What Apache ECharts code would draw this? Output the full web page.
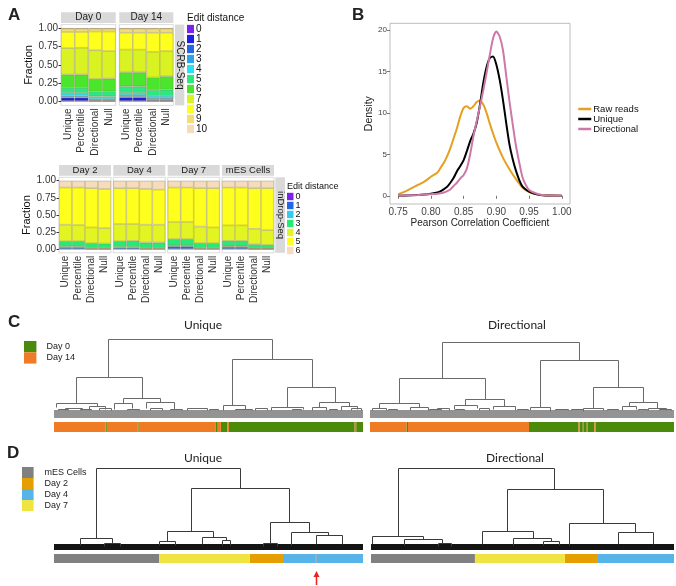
<!DOCTYPE html>
<html>
<head>
<meta charset="utf-8">
<title>UMI deduplication</title>
<script src="https://cdn.jsdelivr.net/npm/echarts@6/dist/echarts.min.js"></script>
<style>
  html, body { margin: 0; padding: 0; background: #fff; }
  #chart { width: 676px; height: 586px; }
</style>
</head>
<body>
<div id="chart"></div>
<script>
// ---- panel A: fraction of reads per edit distance (rows = Unique, Percentile, Directional, Null)
const methods = ['Unique', 'Percentile', 'Directional', 'Null']
const fracTicks = [0, 0.25, 0.5, 0.75, 1]
const scrbLevels = ['0', '1', '2', '3', '4', '5', '6', '7', '8', '9', '10']
const indropLevels = ['0', '1', '2', '3', '4', '5', '6']
const scrbColors = ['#7b22ee', '#1c20e6', '#2366e6', '#2ba2ee', '#2be0f2', '#2ce882', '#4ae62c', '#d8f222', '#ffff1e', '#f7dc74', '#f6dcbc']
const indropColors = ['#7b22ee', '#2266e8', '#33ccee', '#2ae878', '#e2f422', '#ffff1e', '#f6dcbc']

const scrbDay0 = [
  [0.01, 0.045, 0.01, 0.02, 0.035, 0.07, 0.18, 0.36, 0.22, 0.045, 0.005],
  [0.01, 0.045, 0.01, 0.02, 0.035, 0.07, 0.18, 0.365, 0.215, 0.045, 0.005],
  [0.005, 0.013, 0.008, 0.01, 0.036, 0.068, 0.17, 0.39, 0.255, 0.04, 0.005],
  [0.005, 0.013, 0.008, 0.01, 0.036, 0.07, 0.173, 0.375, 0.265, 0.04, 0.005]
]
const scrbDay14 = [
  [0.01, 0.05, 0.01, 0.02, 0.03, 0.09, 0.19, 0.31, 0.23, 0.055, 0.005],
  [0.01, 0.05, 0.01, 0.02, 0.03, 0.09, 0.19, 0.31, 0.23, 0.055, 0.005],
  [0.005, 0.015, 0.01, 0.02, 0.03, 0.08, 0.17, 0.35, 0.26, 0.055, 0.005],
  [0.005, 0.015, 0.01, 0.02, 0.03, 0.085, 0.18, 0.345, 0.25, 0.055, 0.005]
]
const indropDay2 = [
  [0.005, 0.025, 0.01, 0.08, 0.24, 0.54, 0.10],
  [0.005, 0.025, 0.01, 0.08, 0.235, 0.545, 0.10],
  [0.002, 0.008, 0.01, 0.07, 0.23, 0.57, 0.11],
  [0.002, 0.008, 0.01, 0.065, 0.225, 0.57, 0.12]
]
const indropDay4 = [
  [0.005, 0.02, 0.01, 0.085, 0.25, 0.52, 0.11],
  [0.005, 0.02, 0.01, 0.09, 0.245, 0.52, 0.11],
  [0.002, 0.008, 0.01, 0.08, 0.26, 0.52, 0.12],
  [0.002, 0.008, 0.01, 0.08, 0.26, 0.51, 0.13]
]
const indropDay7 = [
  [0.005, 0.04, 0.015, 0.09, 0.25, 0.50, 0.10],
  [0.005, 0.04, 0.015, 0.09, 0.25, 0.50, 0.10],
  [0.002, 0.01, 0.01, 0.07, 0.24, 0.56, 0.108],
  [0.002, 0.01, 0.01, 0.068, 0.23, 0.57, 0.11]
]
const indropMES = [
  [0.005, 0.03, 0.01, 0.08, 0.225, 0.55, 0.10],
  [0.005, 0.03, 0.01, 0.08, 0.225, 0.55, 0.10],
  [0.002, 0.006, 0.01, 0.055, 0.227, 0.59, 0.11],
  [0.002, 0.006, 0.01, 0.047, 0.215, 0.61, 0.11]
]

// ---- panel B: density of pearson correlation
const pearsonTicks = [0.75, 0.8, 0.85, 0.9, 0.95, 1.0]
const densityTicks = [0, 5, 10, 15, 20]
const rawReads = [[0.75, 0.2], [0.76, 0.5], [0.77, 0.9], [0.78, 1.3], [0.79, 1.7], [0.80, 2.3], [0.81, 2.8], [0.815, 3.4], [0.82, 4.0], [0.825, 4.8], [0.83, 5.8], [0.835, 7.0], [0.84, 8.2], [0.845, 9.6], [0.85, 10.6], [0.855, 10.8], [0.86, 10.5], [0.865, 10.8], [0.87, 11.3], [0.875, 11.5], [0.88, 11.0], [0.885, 10.0], [0.89, 8.7], [0.895, 7.5], [0.90, 6.4], [0.91, 4.6], [0.92, 3.2], [0.93, 2.0], [0.94, 1.0], [0.95, 0.45], [0.96, 0.2], [0.97, 0.08], [0.98, 0.03], [1.0, 0.0]]
const uniqueDensity = [[0.75, 0], [0.77, 0.05], [0.79, 0.15], [0.80, 0.25], [0.81, 0.4], [0.815, 0.55], [0.82, 0.8], [0.825, 1.1], [0.83, 1.6], [0.835, 2.2], [0.84, 3.0], [0.845, 3.6], [0.85, 4.3], [0.855, 5.4], [0.86, 6.6], [0.865, 7.5], [0.87, 8.8], [0.875, 11.0], [0.88, 13.6], [0.885, 15.5], [0.89, 16.6], [0.895, 16.8], [0.90, 15.8], [0.905, 14.0], [0.91, 11.6], [0.915, 8.8], [0.92, 6.2], [0.925, 4.4], [0.93, 3.0], [0.935, 1.9], [0.94, 1.1], [0.945, 0.75], [0.95, 0.5], [0.96, 0.2], [0.97, 0.05], [1.0, 0]]
const directionalDensity = [[0.75, 0], [0.78, 0.1], [0.80, 0.2], [0.81, 0.25], [0.82, 0.4], [0.825, 0.55], [0.83, 0.8], [0.835, 1.2], [0.84, 1.6], [0.845, 2.1], [0.85, 2.5], [0.855, 3.3], [0.86, 5.0], [0.865, 7.2], [0.87, 9.0], [0.875, 10.8], [0.88, 12.7], [0.885, 14.8], [0.89, 17.0], [0.895, 19.0], [0.90, 19.8], [0.905, 19.2], [0.91, 17.6], [0.915, 14.5], [0.92, 11.4], [0.925, 8.6], [0.93, 6.0], [0.935, 4.0], [0.94, 2.2], [0.945, 1.3], [0.95, 0.7], [0.96, 0.3], [0.97, 0.1], [0.98, 0.03], [1.0, 0]]

// ---- panels C, D: dendrogram merges [leftX%, rightX%, height, leftChildHeight, rightChildHeight]
const cUniqueTree = [
  [17.5, 70.6, 79, 41, 59], [7.1, 28.5, 41, 15, 20], [22.3, 34.3, 20, 15, 16],
  [57.6, 83.5, 59, 13, 31], [75.4, 90.9, 31, 11, 16], [85.8, 95.5, 16, 11, 12],
  [0.6, 13.9, 15, 11, 12], [54.7, 61.8, 13, 8, 9], [70.2, 80.6, 11, 8, 9],
  [19.4, 25.2, 15, 9, 10], [29.8, 38.8, 16, 10, 9], [11.3, 16.5, 12, 8, 9],
  [83.6, 88.0, 11, 8, 8], [92.8, 98.2, 12, 8, 9], [3.5, 9.0, 10, 8, 8], [43.0, 49.5, 10, 8, 8],
  [23.5, 27.5, 9, 8, 8], [31.0, 35.0, 10, 8, 8], [58.5, 64.0, 9, 8, 8], [65.0, 69.0, 10, 8, 8],
  [77.0, 80.0, 9, 8, 8], [89.0, 91.5, 9, 8, 8], [96.0, 99.5, 10, 8, 8], [1.2, 4.5, 9, 8, 8],
  [8.5, 12.0, 9, 8, 8], [14.5, 18.5, 10, 8, 8], [37.5, 41.5, 9, 8, 8], [50.0, 53.0, 9, 8, 8]
]
const cDirectionalTree = [
  [23.7, 68.8, 76, 40, 58], [9.5, 37.8, 40, 15, 19], [31.3, 44.1, 19, 13, 12],
  [55.9, 81.6, 58, 11, 31], [73.4, 89.8, 31, 10, 16], [85.2, 94.4, 16, 12, 10],
  [3.0, 16.0, 15, 10, 11], [27.5, 35.1, 13, 9, 10], [40.5, 47.7, 12, 9, 8],
  [52.5, 59.3, 11, 8, 7], [70.0, 76.8, 10, 7, 8], [82.9, 87.5, 12, 8, 9],
  [91.4, 97.4, 10, 8, 8], [0.6, 5.4, 10, 8, 8], [13.0, 19.0, 11, 8, 8], [22.0, 26.0, 10, 8, 8],
  [6.0, 9.0, 9, 8, 8], [19.5, 23.5, 9, 8, 8], [28.0, 31.0, 9, 8, 8], [36.0, 39.0, 10, 8, 8],
  [48.5, 52.0, 9, 8, 8], [61.0, 65.0, 9, 8, 8], [66.0, 70.0, 9, 8, 8], [78.0, 81.5, 9, 8, 8],
  [88.0, 91.0, 9, 8, 8], [95.0, 99.0, 9, 8, 8]
]
const dUniqueTree = [
  [13.6, 60.2, 82, 12, 62], [8.4, 18.8, 12, 5, 7], [16.2, 21.4, 7, 4, 4],
  [44.2, 76.1, 62, 19, 28], [36.6, 51.5, 19, 9, 13], [47.9, 55.7, 13, 6, 10],
  [54.4, 57.0, 10, 5, 5], [69.9, 82.5, 28, 7, 18], [76.7, 88.7, 18, 5, 15],
  [84.8, 93.2, 15, 6, 6], [34.0, 39.2, 9, 5, 5], [67.5, 72.3, 7, 4, 4]
]
const dDirectionalTree = [
  [8.9, 60.4, 82, 14, 61], [0.3, 17.2, 14, 6, 11], [10.9, 23.4, 11, 5, 7],
  [22.1, 26.4, 7, 4, 4], [44.9, 76.6, 61, 19, 27], [36.6, 53.5, 19, 6, 12],
  [46.9, 59.4, 12, 5, 9], [56.8, 62.0, 9, 5, 5], [65.3, 87.1, 27, 5, 18],
  [81.5, 93.1, 18, 6, 6]
]
// dense leaves at the bottom of each tree [fromX%, toX%, lowH, highH]
const cLeaves = [[0, 100, 0, 8]]
const dLeaves = [[0, 100, 0, 6]]

// sample colour bars under the trees [fromX%, toX%, group]
const cGroups = ['Day 0', 'Day 14']
const cGroupColors = ['#4b8b0b', '#ef7b24']
const cUniqueSamples = [
  [0, 16.7, 'Day 14'], [16.7, 17.1, 'Day 0'], [17.1, 27.0, 'Day 14'], [27.0, 27.4, 'Day 0'],
  [27.4, 52.4, 'Day 14'], [52.4, 53.0, 'Day 0'], [53.0, 54.0, 'Day 14'], [54.0, 56.1, 'Day 0'],
  [56.1, 56.6, 'Day 14'], [56.6, 97.3, 'Day 0'], [97.3, 97.8, 'Day 14'], [97.8, 100, 'Day 0']
]
const cDirectionalSamples = [
  [0, 12.0, 'Day 14'], [12.0, 12.5, 'Day 0'], [12.5, 52.3, 'Day 14'], [52.3, 68.6, 'Day 0'],
  [68.6, 69.0, 'Day 14'], [69.0, 70.0, 'Day 0'], [70.0, 70.4, 'Day 14'], [70.4, 71.3, 'Day 0'],
  [71.3, 71.7, 'Day 14'], [71.7, 73.8, 'Day 0'], [73.8, 74.3, 'Day 14'], [74.3, 100, 'Day 0']
]
const dGroups = ['mES Cells', 'Day 2', 'Day 4', 'Day 7']
const dGroupColors = ['#808080', '#e69f00', '#56b4e9', '#f0e442']
const dUniqueSamples = [
  [0, 34.0, 'mES Cells'], [34.0, 63.4, 'Day 7'], [63.4, 74.1, 'Day 2'],
  [74.1, 84.6, 'Day 4'], [84.6, 85.0, 'mES Cells'], [85.0, 100, 'Day 4']
]
const dDirectionalSamples = [
  [0, 34.3, 'mES Cells'], [34.3, 64.0, 'Day 7'], [64.0, 74.9, 'Day 2'], [74.9, 100, 'Day 4']
]
// the outlier marked with a red arrow [x%, tipH, tailH]
const arrowMark = [[84.8, -21, -35]]

const chart = echarts.init(document.getElementById('chart'))

const facets = [
  { data: scrbDay0, levels: scrbLevels, colors: scrbColors, key: 's', grid: { left: 61, top: 24.6, width: 54.7, height: 80.8 } },
  { data: scrbDay14, levels: scrbLevels, colors: scrbColors, key: 's', grid: { left: 119.3, top: 24.6, width: 54, height: 80.8 } },
  { data: indropDay2, levels: indropLevels, colors: indropColors, key: 'i', grid: { left: 59, top: 177.3, width: 52, height: 75.5 } },
  { data: indropDay4, levels: indropLevels, colors: indropColors, key: 'i', grid: { left: 113.3, top: 177.3, width: 52, height: 75.5 } },
  { data: indropDay7, levels: indropLevels, colors: indropColors, key: 'i', grid: { left: 167.7, top: 177.3, width: 52, height: 75.5 } },
  { data: indropMES, levels: indropLevels, colors: indropColors, key: 'i', grid: { left: 222, top: 177.3, width: 52, height: 75.5 } }
]

// strip backgrounds [x, y, w, h, text, fontSize, vertical]
const strips = [
  [61, 12.3, 54.7, 10.6, 'Day 0', 10, false],
  [119.3, 12.3, 54, 10.6, 'Day 14', 10, false],
  [175, 24.6, 9.3, 80.8, 'SCRB-Seq', 10, true],
  [59, 165, 52, 10.7, 'Day 2', 9.5, false],
  [113.3, 165, 52, 10.7, 'Day 4', 9.5, false],
  [167.7, 165, 52, 10.7, 'Day 7', 9.5, false],
  [222, 165, 52, 10.7, 'mES Cells', 9.5, false],
  [275.3, 177.3, 9.7, 75.5, 'inDrop-Seq', 9.5, true]
]

const grids = []
const xAxes = []
const yAxes = []
const series = []

facets.forEach((f, gi) => {
  const first = gi === 0 || gi === 2
  grids.push(Object.assign({ show: true, borderColor: '#d2d2d2', borderWidth: 0.8, backgroundColor: '#fff' }, f.grid))
  xAxes.push({
    type: 'category', gridIndex: gi, data: methods,
    axisLine: { show: false },
    axisTick: { alignWithLabel: true, length: 2.5, lineStyle: { color: '#333' } },
    axisLabel: { rotate: 90, interval: 0, fontSize: 10, color: '#333', margin: 3 }
  })
  yAxes.push({
    type: 'value', gridIndex: gi, min: -0.05, max: 1.05,
    splitLine: { show: false }, axisLine: { show: false },
    axisTick: { show: first, length: 2.5, customValues: fracTicks, lineStyle: { color: '#333' } },
    axisLabel: { show: first, customValues: fracTicks, formatter: v => v.toFixed(2), fontSize: 10, color: '#333', margin: 3 },
    name: first ? 'Fraction' : '', nameLocation: 'middle', nameGap: 20,
    nameTextStyle: { fontSize: 11, color: '#111' }
  })
  f.levels.forEach((lv, li) => {
    series.push({
      type: 'bar', name: f.key + lv, xAxisIndex: gi, yAxisIndex: gi, stack: 'st' + gi,
      barCategoryGap: '0%',
      data: f.data.map(row => row[li]),
      itemStyle: { color: f.colors[li], borderColor: 'rgba(130,120,60,0.55)', borderWidth: 0.6 }
    })
  })
})

// panel B grid (index 6)
grids.push({ left: 390, top: 23.3, width: 180, height: 180.7, show: true, borderColor: '#bdbdbd', borderWidth: 1 })
xAxes.push({
  type: 'value', gridIndex: 6, min: 0.7375, max: 1.0125,
  splitLine: { show: false }, axisLine: { show: false },
  axisTick: { customValues: pearsonTicks, length: 3, lineStyle: { color: '#777' } },
  axisLabel: { customValues: pearsonTicks, formatter: v => v.toFixed(2), fontSize: 10, color: '#444', margin: 3 },
  name: 'Pearson Correlation Coefficient', nameLocation: 'middle', nameGap: 12,
  nameTextStyle: { fontSize: 10, color: '#222' }
})
yAxes.push({
  type: 'value', gridIndex: 6, min: -0.99, max: 20.79,
  splitLine: { show: false }, axisLine: { show: false },
  axisTick: { customValues: densityTicks, length: 3, lineStyle: { color: '#777' } },
  axisLabel: { customValues: densityTicks, fontSize: 8, color: '#444', margin: 3 },
  name: 'Density', nameLocation: 'middle', nameGap: 13,
  nameTextStyle: { fontSize: 10.5, color: '#222' }
})
const densityLines = [
  ['Raw reads', rawReads, '#e5a020'],
  ['Unique', uniqueDensity, '#000000'],
  ['Directional', directionalDensity, '#cc79a7']
]
densityLines.forEach(d => {
  series.push({
    type: 'line', name: d[0], xAxisIndex: 6, yAxisIndex: 6, data: d[1],
    showSymbol: false, symbol: 'none', smooth: 0.25,
    lineStyle: { width: 2, color: d[2] }, itemStyle: { color: d[2] }
  })
})

// dendrogram grids (7..10)
const treePanels = [
  { grid: { left: 54, top: 330, width: 309, height: 102 }, yMin: -14, yMax: 88, tree: cUniqueTree, leaves: cLeaves, samples: cUniqueSamples, groups: cGroups, colors: cGroupColors, line: '#6a6a6a', leafColor: '#939393', bar: [-4, -14] },
  { grid: { left: 370, top: 330, width: 304, height: 102 }, yMin: -14, yMax: 88, tree: cDirectionalTree, leaves: cLeaves, samples: cDirectionalSamples, groups: cGroups, colors: cGroupColors, line: '#6a6a6a', leafColor: '#939393', bar: [-4, -14] },
  { grid: { left: 54, top: 460, width: 309, height: 103 }, yMin: -13, yMax: 90, tree: dUniqueTree, leaves: dLeaves, samples: dUniqueSamples, groups: dGroups, colors: dGroupColors, line: '#3a3a3a', leafColor: '#141414', bar: [-4, -13] },
  { grid: { left: 371, top: 460, width: 303, height: 103 }, yMin: -13, yMax: 90, tree: dDirectionalTree, leaves: dLeaves, samples: dDirectionalSamples, groups: dGroups, colors: dGroupColors, line: '#3a3a3a', leafColor: '#141414', bar: [-4, -13] }
]

function snap(p) {
  return [Math.round(p[0]) + 0.5, Math.round(p[1]) + 0.5]
}

treePanels.forEach((t, k) => {
  const gi = 7 + k
  grids.push(t.grid)
  xAxes.push({ type: 'value', gridIndex: gi, min: 0, max: 100, show: false })
  yAxes.push({ type: 'value', gridIndex: gi, min: t.yMin, max: t.yMax, show: false })
  series.push({
    type: 'custom', name: 'leaves' + k, xAxisIndex: gi, yAxisIndex: gi, data: t.leaves,
    itemStyle: { color: t.leafColor },
    renderItem: (params, api) => {
      const a = api.coord([api.value(0), api.value(3)])
      const b = api.coord([api.value(1), api.value(2)])
      return { type: 'rect', shape: { x: a[0], y: a[1], width: b[0] - a[0], height: b[1] - a[1] }, style: { fill: api.visual('color') } }
    }
  })
  series.push({
    type: 'custom', name: 'tree' + k, xAxisIndex: gi, yAxisIndex: gi, data: t.tree,
    itemStyle: { color: t.line },
    renderItem: (params, api) => {
      const x1 = api.value(0), x2 = api.value(1), h = api.value(2)
      const pts = [[x1, api.value(3)], [x1, h], [x2, h], [x2, api.value(4)]].map(v => snap(api.coord(v)))
      return { type: 'polyline', shape: { points: pts }, style: { stroke: api.visual('color'), fill: 'none', lineWidth: 1 } }
    }
  })
  t.groups.forEach((g, j) => {
    series.push({
      type: 'custom', name: g, xAxisIndex: gi, yAxisIndex: gi,
      data: t.samples.filter(s => s[2] === g).map(s => [s[0], s[1]]),
      itemStyle: { color: t.colors[j] },
      renderItem: (params, api) => {
        const a = api.coord([api.value(0), t.bar[0]])
        const b = api.coord([api.value(1), t.bar[1]])
        return { type: 'rect', shape: { x: a[0], y: a[1], width: Math.max(b[0] - a[0], 1), height: b[1] - a[1] }, style: { fill: api.visual('color') } }
      }
    })
  })
})

series.push({
  type: 'custom', name: 'arrow', xAxisIndex: 9, yAxisIndex: 9, data: arrowMark,
  renderItem: (params, api) => {
    const tip = api.coord([api.value(0), api.value(1)])
    const tail = api.coord([api.value(0), api.value(2)])
    const x = Math.round(tip[0]) + 0.5
    return {
      type: 'group', children: [
        { type: 'line', shape: { x1: x, y1: tip[1] + 5, x2: x, y2: tail[1] }, style: { stroke: '#e8231f', lineWidth: 1.5 } },
        { type: 'polygon', shape: { points: [[x, tip[1]], [x - 3, tip[1] + 6], [x + 3, tip[1] + 6]] }, style: { fill: '#e8231f' } }
      ]
    }
  }
})

const panelLabel = (text, left, top) => ({ text: text, left: left, top: top, textStyle: { fontSize: 17, fontWeight: 'bold', color: '#222' } })
const treeTitle = (text, left, top) => ({ text: text, left: left, top: top, textAlign: 'center', textStyle: { fontFamily: 'Lato', fontSize: 12, fontWeight: 'normal', color: '#222' } })

const option = {
  animation: false,
  backgroundColor: '#fff',
  textStyle: { fontFamily: 'Liberation Sans, Arial, sans-serif' },
  title: [
    panelLabel('A', 3, 2),
    panelLabel('B', 347, 2),
    panelLabel('C', 3, 309),
    panelLabel('D', 2, 440),
    { text: 'Edit distance', left: 187, top: 13, padding: 0, textStyle: { fontSize: 10, fontWeight: 'normal', color: '#111' } },
    { text: 'Edit distance', left: 287, top: 182, padding: 0, textStyle: { fontSize: 9, fontWeight: 'normal', color: '#111' } },
    treeTitle('Unique', 198, 314),
    treeTitle('Directional', 512, 314),
    treeTitle('Unique', 198, 447),
    treeTitle('Directional', 510, 447)
  ],
  legend: [
    {
      data: scrbLevels.map(l => 's' + l), orient: 'vertical', left: 187, top: 24, padding: 0,
      itemWidth: 7, itemHeight: 8.3, itemGap: 0, icon: 'rect', selectedMode: false,
      itemStyle: { borderWidth: 0 }, formatter: n => n.slice(1),
      textStyle: { fontSize: 10, lineHeight: 8.3, color: '#111', padding: [0, 0, 0, -3] }
    },
    {
      data: indropLevels.map(l => 'i' + l), orient: 'vertical', left: 287, top: 192, padding: 0,
      itemWidth: 6.5, itemHeight: 7.4, itemGap: 0, icon: 'rect', selectedMode: false,
      itemStyle: { borderWidth: 0 }, formatter: n => n.slice(1),
      textStyle: { fontSize: 9, lineHeight: 7.4, color: '#111', padding: [0, 0, 0, -3] }
    },
    {
      data: ['Raw reads', 'Unique', 'Directional'], orient: 'vertical', left: 577, top: 104, padding: 0,
      itemWidth: 13, itemHeight: 9.8, itemGap: 0, selectedMode: false,
      itemStyle: { opacity: 0 }, lineStyle: { width: 2.5 },
      textStyle: { fontSize: 9.5, lineHeight: 9.8, color: '#111', padding: [0, 0, 0, -3] }
    },
    {
      data: cGroups, orient: 'vertical', left: 24, top: 341, padding: 0,
      itemWidth: 12.4, itemHeight: 11.3, itemGap: 0, icon: 'rect', selectedMode: false,
      textStyle: { fontSize: 9, lineHeight: 11.3, color: '#222', padding: [0, 0, 0, 5] }
    },
    {
      data: dGroups, orient: 'vertical', left: 22, top: 467, padding: 0,
      itemWidth: 11.6, itemHeight: 11, itemGap: 0, icon: 'rect', selectedMode: false,
      textStyle: { fontSize: 9, lineHeight: 11, color: '#222', padding: [0, 0, 0, 6] }
    }
  ],
  graphic: strips.flatMap(s => [
    { type: 'rect', silent: true, shape: { x: s[0], y: s[1], width: s[2], height: s[3] }, style: { fill: '#d9d9d9' } },
    {
      type: 'text', silent: true, x: s[0] + s[2] / 2, y: s[1] + s[3] / 2, rotation: s[6] ? -Math.PI / 2 : 0,
      style: { text: s[4], fill: '#1a1a1a', font: s[5] + 'px "Liberation Sans", Arial, sans-serif', align: 'center', verticalAlign: 'middle', textAlign: 'center', textVerticalAlign: 'middle' }
    }
  ]),
  grid: grids,
  xAxis: xAxes,
  yAxis: yAxes,
  series: series
}

chart.setOption(option)
</script>
</body>
</html>
